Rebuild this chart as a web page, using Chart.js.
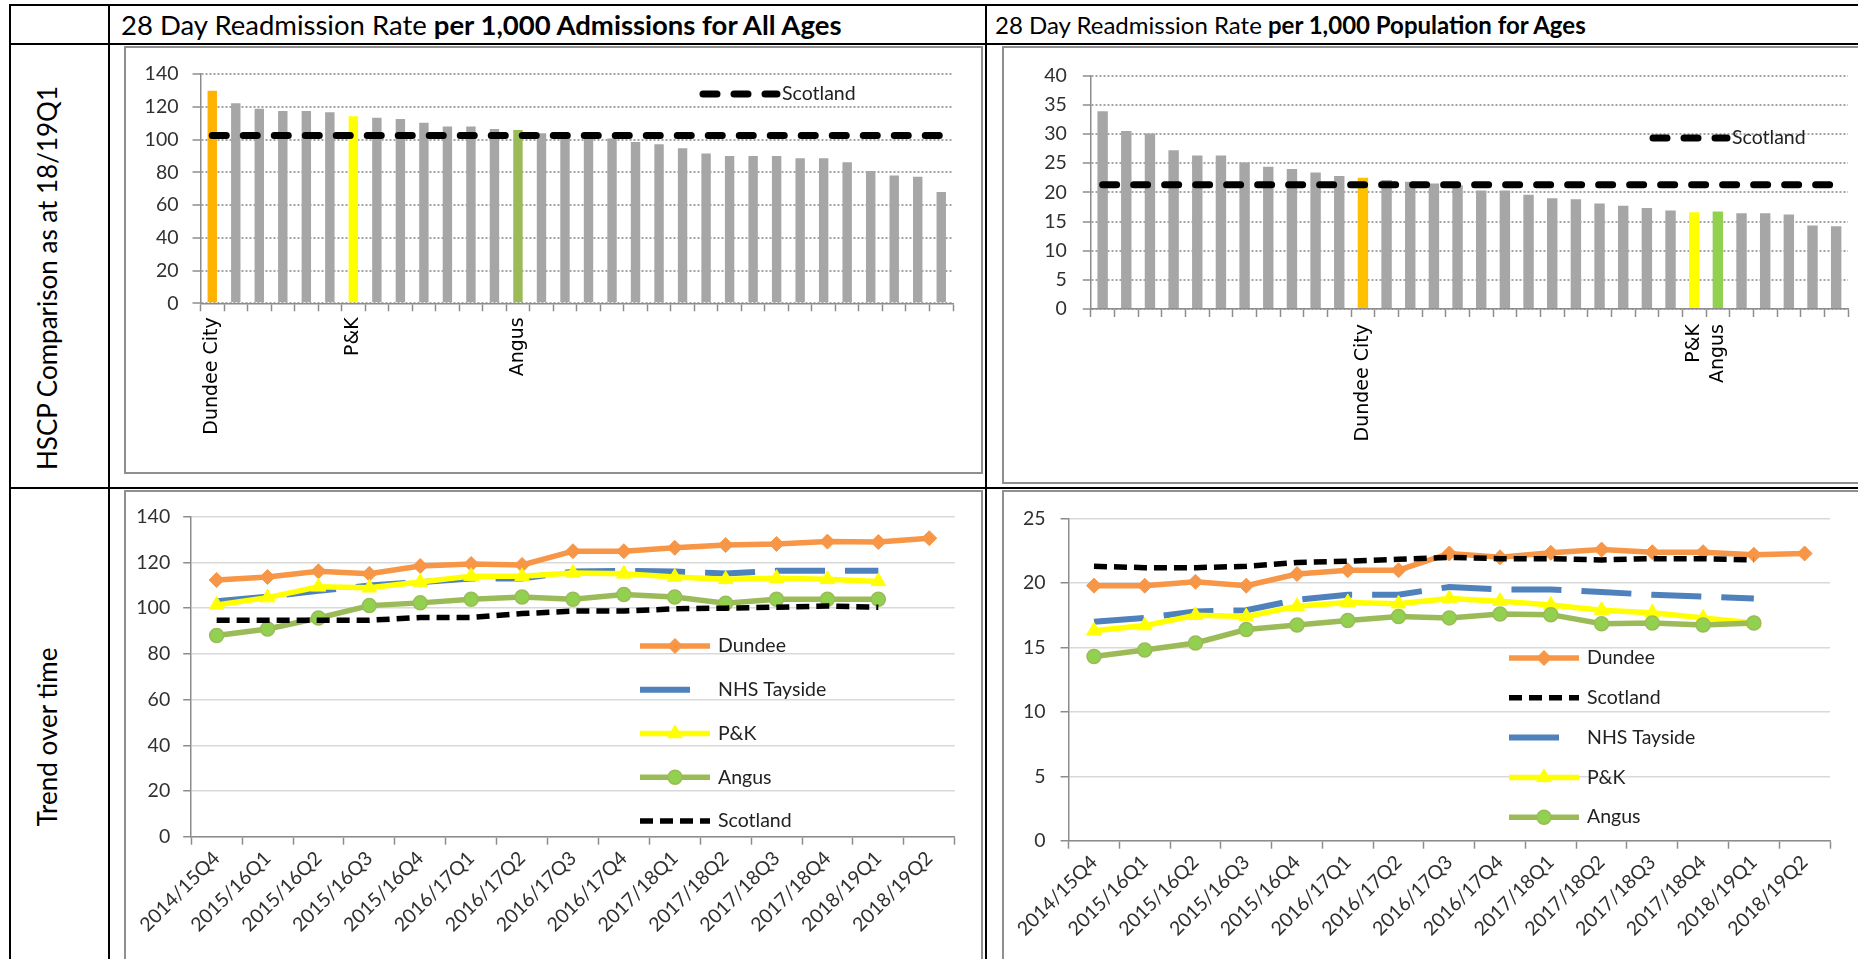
<!DOCTYPE html>
<html>
<head>
<meta charset="utf-8">
<title>28 Day Readmission Rates – Tayside HSCPs</title>
<script src="https://cdn.jsdelivr.net/npm/chart.js@4.4.1/dist/chart.umd.min.js"></script>
<style>
  html, body { margin: 0; padding: 0; background: #fff; width: 1858px; height: 959px; overflow: hidden; }
  body { position: relative; font-family: Lato, "Open Sans", sans-serif; color: #000; }
  .rule { position: absolute; background: #000; }
  .hdr { position: absolute; top: 5px; height: 39px; line-height: 39px; white-space: nowrap; }
  .hdr b { font-weight: 700; }
  .side { position: absolute; font-size: 26px; white-space: nowrap; transform: translate(-50%, -50%) rotate(-90deg); }
  .panel { position: absolute; border: 2px solid #8f8f8f; box-sizing: border-box; background: #fff; overflow: hidden; }
  .panel canvas { display: block; }
</style>
</head>
<body>
  <!-- table rules -->
  <div class="rule" style="left:9px;top:4px;width:1849px;height:2px"></div>
  <div class="rule" style="left:9px;top:43px;width:1849px;height:2px"></div>
  <div class="rule" style="left:9px;top:487px;width:1849px;height:2px"></div>
  <div class="rule" style="left:9px;top:4px;width:2px;height:955px"></div>
  <div class="rule" style="left:108px;top:4px;width:2px;height:955px"></div>
  <div class="rule" style="left:985px;top:4px;width:2px;height:955px"></div>

  <div class="hdr" style="left:121px;font-size:27.5px">28 Day Readmission Rate <b>per 1,000 Admissions for All Ages</b></div>
  <div class="hdr" style="left:995px;font-size:24px">28 Day Readmission Rate <b>per 1,000 Population for Ages</b></div>

  <div class="side" style="left:47px;top:278px">HSCP Comparison as at 18/19Q1</div>
  <div class="side" style="left:47px;top:737px">Trend over time</div>

  <div class="panel" style="left:124px;top:46px;width:859px;height:428px">
    <canvas id="admBars" width="855" height="424"></canvas>
  </div>
  <div class="panel" style="left:1002px;top:46px;width:900px;height:438px">
    <canvas id="popBars" width="896" height="434"></canvas>
  </div>
  <div class="panel" style="left:124px;top:490px;width:859px;height:520px">
    <canvas id="admTrend" width="855" height="516"></canvas>
  </div>
  <div class="panel" style="left:1002px;top:490px;width:900px;height:520px">
    <canvas id="popTrend" width="896" height="516"></canvas>
  </div>

<script>
// ---- HSCP comparison, 18/19Q1 (ranked, highest first) ----
const admHscpLabels = ['Dundee City', '', '', '', '', '', 'P&K', '', '', '', '', '', '', 'Angus',
  '', '', '', '', '', '', '', '', '', '', '', '', '', '', '', '', '', ''];
const admHscpRates = [129.7, 122.1, 118.8, 117.4, 117.4, 116.6, 114.2, 113.3, 112.5, 110.3, 107.9, 107.9,
  106.4, 105.8, 103.9, 102.6, 101.8, 100.6, 98.5, 97.1, 94.6, 91.4, 89.9, 89.9, 89.9, 88.5, 88.5, 86.1,
  80.8, 78.1, 77.3, 68.0];
const admScotlandRate = 102.4;

const popHscpLabels = ['', '', '', '', '', '', '', '', '', '', '', 'Dundee City', '', '', '', '', '', '', '',
  '', '', '', '', '', '', 'P&K', 'Angus', '', '', '', '', ''];
const popHscpRates = [33.9, 30.5, 30.1, 27.2, 26.3, 26.3, 25.1, 24.4, 24.0, 23.4, 22.8, 22.5, 22.1, 21.8,
  21.5, 21.2, 20.3, 20.3, 19.6, 19.0, 18.8, 18.1, 17.7, 17.3, 16.9, 16.6, 16.7, 16.4, 16.4, 16.2, 14.3, 14.2];
const popScotlandRate = 21.3;

// ---- Trend over time ----
const quarters = ['2014/15Q4', '2015/16Q1', '2015/16Q2', '2015/16Q3', '2015/16Q4', '2016/17Q1', '2016/17Q2',
  '2016/17Q3', '2016/17Q4', '2017/18Q1', '2017/18Q2', '2017/18Q3', '2017/18Q4', '2018/19Q1', '2018/19Q2'];

const admDundee   = [112.3, 113.6, 116.1, 115.0, 118.4, 119.3, 118.9, 124.9, 124.9, 126.4, 127.6, 128.1, 129.1, 128.9, 130.6];
const admTayside  = [103.0, 105.0, 107.6, 109.9, 111.4, 113.0, 113.0, 116.0, 116.3, 116.0, 115.2, 116.3, 116.3, 116.3];
const admPK       = [101.4, 104.6, 109.3, 108.9, 111.4, 114.0, 113.9, 115.4, 115.0, 113.6, 112.6, 113.1, 112.6, 111.7];
const admAngus    = [88.0, 90.9, 95.7, 101.1, 102.3, 103.9, 104.9, 103.9, 106.0, 104.9, 102.1, 103.9, 103.9, 103.9];
const admScotland = [94.7, 94.7, 94.7, 94.7, 95.9, 95.9, 97.6, 98.7, 98.7, 99.7, 100.0, 100.4, 100.9, 100.4];

const popDundee   = [19.8, 19.8, 20.1, 19.8, 20.7, 21.0, 21.0, 22.3, 22.0, 22.35, 22.6, 22.4, 22.4, 22.2, 22.3];
const popScotland = [21.3, 21.2, 21.2, 21.3, 21.6, 21.7, 21.85, 22.0, 21.9, 21.9, 21.8, 21.9, 21.9, 21.8];
const popTayside  = [17.0, 17.3, 17.8, 17.9, 18.7, 19.1, 19.1, 19.7, 19.5, 19.5, 19.3, 19.1, 18.95, 18.8];
const popPK       = [16.3, 16.7, 17.5, 17.4, 18.2, 18.5, 18.4, 18.8, 18.6, 18.3, 17.9, 17.7, 17.3, 16.9];
const popAngus    = [14.3, 14.8, 15.35, 16.4, 16.75, 17.1, 17.4, 17.3, 17.6, 17.55, 16.85, 16.9, 16.75, 16.9];

// ---- styling ----
const TICK_FONT = { family: 'Lato, "Open Sans", sans-serif', size: 19.5 };
const NAME_FONT = { family: '"DejaVu Sans", Verdana, sans-serif', size: 19 };
const TICK_COLOUR = '#303030';
const AXIS_COLOUR = '#8c8c8c';
const GREY_BAR = '#a6a6a6';

function barColours(labels, highlight) {
  return labels.map(l => highlight[l] || GREY_BAR);
}

// Force an axis to a fixed thickness so plot areas line up across the panels
function fixedSize(px) {
  return scale => {
    if (scale.isHorizontal()) scale.height = px; else scale.width = px;
  };
}

function drawMarker(ctx, style, r, x, y) {
  ctx.beginPath();
  if (style === 'rectRot') {
    ctx.moveTo(x - r, y); ctx.lineTo(x, y - r); ctx.lineTo(x + r, y); ctx.lineTo(x, y + r);
    ctx.closePath();
  } else if (style === 'triangle') {
    const h = r * 1.5, w = r * Math.sqrt(3);
    ctx.moveTo(x, y - r); ctx.lineTo(x + w / 2, y + h - r); ctx.lineTo(x - w / 2, y + h - r);
    ctx.closePath();
  } else {
    ctx.arc(x, y, r, 0, Math.PI * 2);
  }
  ctx.fill();
  ctx.stroke();
}

// Legend drawn inside the plot, one row per line series
const insideLegend = {
  id: 'insideLegend',
  afterDatasetsDraw(chart, args, opts) {
    const ctx = chart.ctx;
    let row = 0;
    chart.data.datasets.forEach(ds => {
      if (ds.inLegend === false) return;
      const y = opts.y + row * (opts.rowGap || 0);
      const x0 = opts.x, x1 = opts.x + opts.sampleWidth;
      ctx.save();
      ctx.lineWidth = ds.borderWidth;
      ctx.strokeStyle = ds.borderColor;
      ctx.lineCap = ds.borderCapStyle || 'butt';
      ctx.setLineDash(ds.borderDash || []);
      ctx.beginPath();
      ctx.moveTo(x0, y);
      ctx.lineTo(x1, y);
      ctx.stroke();
      ctx.setLineDash([]);
      if (ds.pointRadius > 0) {
        ctx.fillStyle = ds.pointBackgroundColor;
        ctx.strokeStyle = ds.pointBorderColor;
        ctx.lineWidth = ds.pointBorderWidth || 1;
        drawMarker(ctx, ds.pointStyle, ds.pointRadius, (x0 + x1) / 2, y);
      }
      ctx.fillStyle = opts.color;
      ctx.font = `${opts.fontSize}px ${TICK_FONT.family}`;
      ctx.textAlign = 'left';
      ctx.textBaseline = 'middle';
      ctx.fillText(ds.label, x1 + opts.textGap, y);
      ctx.restore();
      row++;
    });
  }
};

function rankingChart(id, labels, values, colours, scotland, yMax, yStep, geom, legendPos) {
  return new Chart(document.getElementById(id), {
    type: 'bar',
    data: {
      labels: labels,
      datasets: [
        {
          type: 'line', label: 'Scotland', data: labels.map(() => scotland),
          borderColor: '#000', borderWidth: 7, borderDash: [14, 17], borderCapStyle: 'round',
          pointRadius: 0, fill: false, order: 0
        },
        {
          type: 'bar', label: 'HSCP', data: values, backgroundColor: colours,
          barPercentage: geom.barPct, categoryPercentage: 1, order: 1, inLegend: false
        }
      ]
    },
    options: {
      responsive: false, animation: false, events: [],
      layout: { padding: { top: geom.top, right: geom.right, left: 0, bottom: 0 } },
      plugins: {
        legend: { display: false }, tooltip: { enabled: false },
        insideLegend: Object.assign({ sampleWidth: 74, textGap: 5, color: '#222', fontSize: 19.5 }, legendPos)
      },
      scales: {
        x: {
          offset: true,
          grid: { offset: true, drawOnChartArea: false, tickLength: 8, tickColor: AXIS_COLOUR, tickWidth: 1.5 },
          border: { color: AXIS_COLOUR, width: 1.5 },
          ticks: { autoSkip: false, minRotation: 90, maxRotation: 90, padding: geom.labelPad, color: '#000', font: NAME_FONT },
          afterFit: fixedSize(geom.xAxis)
        },
        y: {
          min: 0, max: yMax,
          ticks: { stepSize: yStep, padding: geom.tickPad, color: TICK_COLOUR, font: TICK_FONT },
          grid: { color: '#a3a3a3', lineWidth: 2, tickLength: 8, tickColor: AXIS_COLOUR, tickWidth: 1.5, tickBorderDash: [] },
          border: { color: AXIS_COLOUR, width: 1.5, dash: [2, 2] },
          afterFit: fixedSize(geom.yAxis)
        }
      }
    },
    plugins: [insideLegend]
  });
}

rankingChart('admBars', admHscpLabels, admHscpRates,
  barColours(admHscpLabels, { 'Dundee City': '#ffb300', 'P&K': '#ffff00', 'Angus': '#9bbb59' }),
  admScotlandRate, 140, 20,
  { top: 26, right: 28, xAxis: 168.7, yAxis: 74.5, barPct: 0.4, labelPad: 6, tickPad: 14 },
  { x: 577, y: 46 });

rankingChart('popBars', popHscpLabels, popHscpRates,
  barColours(popHscpLabels, { 'Dundee City': '#ffc000', 'P&K': '#ffff00', 'Angus': '#92d050' }),
  popScotlandRate, 40, 5,
  { top: 17, right: 52, xAxis: 173, yAxis: 86.8, barPct: 0.44, labelPad: 7, tickPad: 16 },
  { x: 649, y: 90 });

// ---- trend series styles ----
function dundeeSeries(data) {
  return { label: 'Dundee', data, borderColor: '#f79646', backgroundColor: '#f79646', borderWidth: 5.5,
    pointStyle: 'rectRot', pointRadius: 7.5, pointBackgroundColor: '#f79646', pointBorderColor: '#f79646',
    pointBorderWidth: 1 };
}
function taysideSeries(data) {
  return { label: 'NHS Tayside', data, borderColor: '#4f81bd', backgroundColor: '#4f81bd', borderWidth: 6,
    borderDash: [50, 20], pointRadius: 0 };
}
function pkSeries(data) {
  return { label: 'P&K', data, borderColor: '#ffff00', backgroundColor: '#ffff00', borderWidth: 5.5,
    pointStyle: 'triangle', pointRadius: 8.5, pointBackgroundColor: '#ffff00', pointBorderColor: '#ffff00',
    pointBorderWidth: 1 };
}
function angusSeries(data) {
  return { label: 'Angus', data, borderColor: '#9bbb59', backgroundColor: '#9bbb59', borderWidth: 5.5,
    pointStyle: 'circle', pointRadius: 7, pointBackgroundColor: '#92d050', pointBorderColor: '#9bbb59',
    pointBorderWidth: 1.5 };
}
function scotlandSeries(data) {
  return { label: 'Scotland', data, borderColor: '#000', backgroundColor: '#000', borderWidth: 5.5,
    borderDash: [13, 7], pointRadius: 0 };
}

function trendChart(id, datasets, yMax, yStep, geom, legendPos) {
  // later series sit on top, as in the series order
  datasets.forEach((ds, i) => { ds.order = datasets.length - i; ds.tension = 0; ds.fill = false; });
  return new Chart(document.getElementById(id), {
    type: 'line',
    data: { labels: quarters, datasets },
    options: {
      responsive: false, animation: false, events: [],
      layout: { padding: { top: geom.top, right: geom.right, left: 0, bottom: 0 } },
      plugins: {
        legend: { display: false }, tooltip: { enabled: false },
        insideLegend: Object.assign({ sampleWidth: 70, textGap: 8, color: '#222', fontSize: 19.5 }, legendPos)
      },
      scales: {
        x: {
          offset: true,
          grid: { offset: true, drawOnChartArea: false, tickLength: 8, tickColor: AXIS_COLOUR, tickWidth: 1.5 },
          border: { color: AXIS_COLOUR, width: 1.5 },
          ticks: { autoSkip: false, minRotation: 45, maxRotation: 45, padding: 2, color: TICK_COLOUR, font: TICK_FONT },
          afterFit: fixedSize(geom.xAxis)
        },
        y: {
          min: 0, max: yMax,
          ticks: { stepSize: yStep, padding: geom.tickPad, color: TICK_COLOUR, font: TICK_FONT },
          grid: { color: '#d9d9d9', lineWidth: 1.5, tickLength: 8, tickColor: AXIS_COLOUR, tickWidth: 1.5 },
          border: { color: AXIS_COLOUR, width: 1.5 },
          afterFit: fixedSize(geom.yAxis)
        }
      }
    },
    plugins: [insideLegend]
  });
}

trendChart('admTrend',
  [dundeeSeries(admDundee), taysideSeries(admTayside), pkSeries(admPK), angusSeries(admAngus), scotlandSeries(admScotland)],
  140, 20,
  { top: 18, right: 26.3, xAxis: 171.3, yAxis: 65.2, tickPad: 13 },
  { x: 514, y: 154, rowGap: 43.75 });

trendChart('popTrend',
  [dundeeSeries(popDundee), scotlandSeries(popScotland), taysideSeries(popTayside), pkSeries(popPK), angusSeries(popAngus)],
  25, 5,
  { top: 18, right: 70, xAxis: 167.3, yAxis: 64.6, tickPad: 15 },
  { x: 505, y: 166, rowGap: 39.8 });
</script>
</body>
</html>
